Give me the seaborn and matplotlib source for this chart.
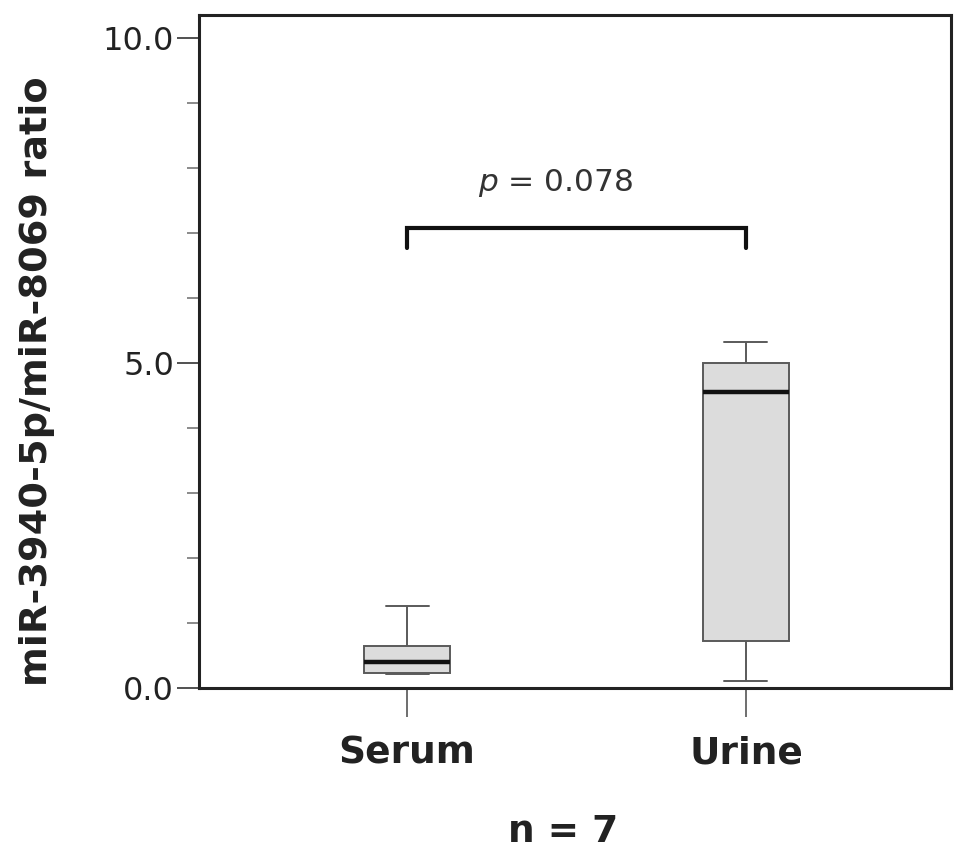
import numpy as np
import pandas as pd
import matplotlib
matplotlib.use("Agg")
import matplotlib.pyplot as plt
import seaborn as sns
from matplotlib.ticker import MultipleLocator, FormatStrFormatter

# ------------------ data (n = 7 per group) ------------------
groups = ["Serum", "Urine"]
serum_ratio = [0.215, 0.22, 0.24, 0.40, 0.60, 0.69, 1.26]
urine_ratio = [0.11, 0.50, 0.94, 4.55, 4.90, 5.10, 5.32]
p_label = "$p$ = 0.078"
bracket_top = 7.08
bracket_foot = 6.77
n_label = "n = 7"

df = pd.DataFrame({
    "sample": ["Serum"] * len(serum_ratio) + ["Urine"] * len(urine_ratio),
    "ratio": serum_ratio + urine_ratio,
})

# ------------------ plot ------------------
sns.set_style("white")
plt.rcParams["font.family"] = ["DejaVu Sans"]

fig = plt.figure(figsize=(9.69, 8.59), dpi=100)
ax = fig.add_axes([0.2054, 0.1991, 0.776, 0.7834])

sns.boxplot(data=df, x="sample", y="ratio", order=groups, ax=ax,
            color="#dcdcdc", saturation=1, width=0.254, whis=(0, 100),
            linecolor="#5a5a5a", linewidth=1.4,
            medianprops=dict(color="#111111", linewidth=3.2))

ax.set_xlim(-0.614, 1.605)
ax.set_ylim(0, 10.35)

# significance bracket
ax.plot([0, 0, 1, 1], [bracket_foot, bracket_top, bracket_top, bracket_foot],
        color="#111111", lw=3, solid_joinstyle="miter")
ax.text(0.437, 7.77, p_label, ha="center", va="center", fontsize=22.5, color="#333333")

# axes styling
for sp in ax.spines.values():
    sp.set_visible(True)
    sp.set_color("#222222")
    sp.set_linewidth(2.2)

ax.yaxis.set_major_locator(MultipleLocator(5))
ax.yaxis.set_minor_locator(MultipleLocator(1))
ax.yaxis.set_major_formatter(FormatStrFormatter("%.1f"))
ax.tick_params(axis="y", which="major", left=True, length=16, width=1.2,
               color="#333333", labelsize=23, pad=2, labelcolor="#222222")
ax.tick_params(axis="y", which="minor", left=True, length=8.5, width=1.2,
               color="#777777")
ax.tick_params(axis="x", bottom=True, length=21, width=1.2, color="#555555", pad=13)
for lab in ax.get_xticklabels():
    lab.set_fontweight("bold")
    lab.set_fontsize(27)
    lab.set_color("#222222")

ax.set_xlabel("")
ax.set_ylabel("miR-3940-5p/miR-8069 ratio", fontsize=27.5, fontweight="bold",
              color="#222222")
ax.yaxis.set_label_coords(-0.192, 0.456)

fig.text(563 / 969, 1 - 832 / 859, n_label, ha="center", va="center",
         fontsize=27, fontweight="bold", color="#222222")

fig.savefig("out.png", dpi=100, facecolor="white")
